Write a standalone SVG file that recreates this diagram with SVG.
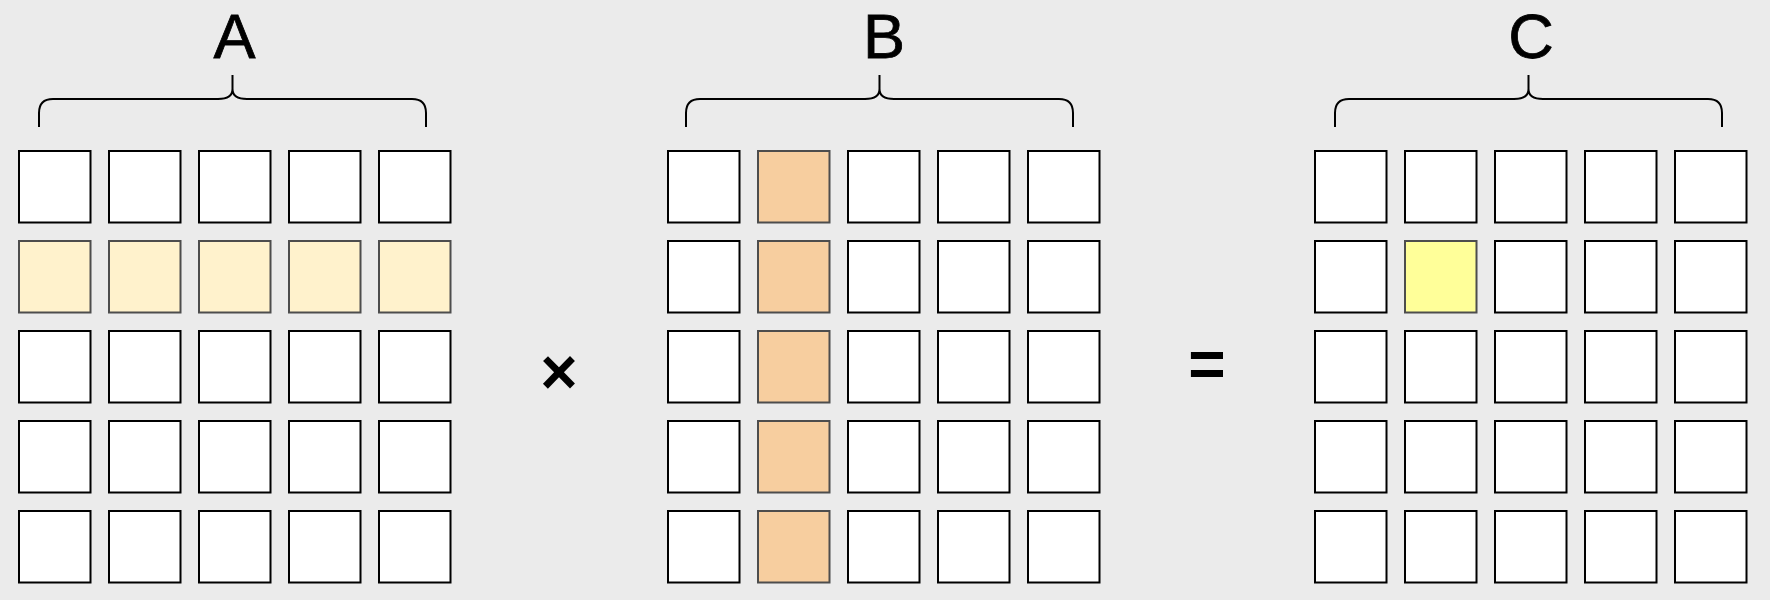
<svg xmlns="http://www.w3.org/2000/svg" width="1770" height="600" viewBox="0 0 1770 600">
<defs>
<style>
.c{fill:#ffffff;stroke:#000000;stroke-width:2}
.ha{fill:#FFF2CC;stroke:#4d4d4d;stroke-width:2}
.hb{fill:#F7CE9F;stroke:#4d4d4d;stroke-width:2}
.hc{fill:#FFFF99;stroke:#4d4d4d;stroke-width:2}
.br{fill:none;stroke:#000000;stroke-width:2}
.lbl{font-family:"Liberation Sans",Arial,sans-serif;font-size:63px;fill:#000000;stroke:#000000;stroke-width:0.8;text-anchor:middle}
.op{font-family:"Liberation Sans",Arial,sans-serif;font-size:64px;font-weight:bold;fill:#000000;text-anchor:middle}
</style>
</defs>
<rect width="1770" height="600" fill="#EBEBEB"/>
<g id="matrixA">
<rect class="c" x="19" y="151" width="71.5" height="71.5"/><rect class="c" x="109" y="151" width="71.5" height="71.5"/><rect class="c" x="199" y="151" width="71.5" height="71.5"/><rect class="c" x="289" y="151" width="71.5" height="71.5"/><rect class="c" x="379" y="151" width="71.5" height="71.5"/>
<rect class="ha" x="19" y="241" width="71.5" height="71.5"/><rect class="ha" x="109" y="241" width="71.5" height="71.5"/><rect class="ha" x="199" y="241" width="71.5" height="71.5"/><rect class="ha" x="289" y="241" width="71.5" height="71.5"/><rect class="ha" x="379" y="241" width="71.5" height="71.5"/>
<rect class="c" x="19" y="331" width="71.5" height="71.5"/><rect class="c" x="109" y="331" width="71.5" height="71.5"/><rect class="c" x="199" y="331" width="71.5" height="71.5"/><rect class="c" x="289" y="331" width="71.5" height="71.5"/><rect class="c" x="379" y="331" width="71.5" height="71.5"/>
<rect class="c" x="19" y="421" width="71.5" height="71.5"/><rect class="c" x="109" y="421" width="71.5" height="71.5"/><rect class="c" x="199" y="421" width="71.5" height="71.5"/><rect class="c" x="289" y="421" width="71.5" height="71.5"/><rect class="c" x="379" y="421" width="71.5" height="71.5"/>
<rect class="c" x="19" y="511" width="71.5" height="71.5"/><rect class="c" x="109" y="511" width="71.5" height="71.5"/><rect class="c" x="199" y="511" width="71.5" height="71.5"/><rect class="c" x="289" y="511" width="71.5" height="71.5"/><rect class="c" x="379" y="511" width="71.5" height="71.5"/>
</g>
<g id="matrixB">
<rect class="c" x="668" y="151" width="71.5" height="71.5"/><rect class="hb" x="758" y="151" width="71.5" height="71.5"/><rect class="c" x="848" y="151" width="71.5" height="71.5"/><rect class="c" x="938" y="151" width="71.5" height="71.5"/><rect class="c" x="1028" y="151" width="71.5" height="71.5"/>
<rect class="c" x="668" y="241" width="71.5" height="71.5"/><rect class="hb" x="758" y="241" width="71.5" height="71.5"/><rect class="c" x="848" y="241" width="71.5" height="71.5"/><rect class="c" x="938" y="241" width="71.5" height="71.5"/><rect class="c" x="1028" y="241" width="71.5" height="71.5"/>
<rect class="c" x="668" y="331" width="71.5" height="71.5"/><rect class="hb" x="758" y="331" width="71.5" height="71.5"/><rect class="c" x="848" y="331" width="71.5" height="71.5"/><rect class="c" x="938" y="331" width="71.5" height="71.5"/><rect class="c" x="1028" y="331" width="71.5" height="71.5"/>
<rect class="c" x="668" y="421" width="71.5" height="71.5"/><rect class="hb" x="758" y="421" width="71.5" height="71.5"/><rect class="c" x="848" y="421" width="71.5" height="71.5"/><rect class="c" x="938" y="421" width="71.5" height="71.5"/><rect class="c" x="1028" y="421" width="71.5" height="71.5"/>
<rect class="c" x="668" y="511" width="71.5" height="71.5"/><rect class="hb" x="758" y="511" width="71.5" height="71.5"/><rect class="c" x="848" y="511" width="71.5" height="71.5"/><rect class="c" x="938" y="511" width="71.5" height="71.5"/><rect class="c" x="1028" y="511" width="71.5" height="71.5"/>
</g>
<g id="matrixC">
<rect class="c" x="1315" y="151" width="71.5" height="71.5"/><rect class="c" x="1405" y="151" width="71.5" height="71.5"/><rect class="c" x="1495" y="151" width="71.5" height="71.5"/><rect class="c" x="1585" y="151" width="71.5" height="71.5"/><rect class="c" x="1675" y="151" width="71.5" height="71.5"/>
<rect class="c" x="1315" y="241" width="71.5" height="71.5"/><rect class="hc" x="1405" y="241" width="71.5" height="71.5"/><rect class="c" x="1495" y="241" width="71.5" height="71.5"/><rect class="c" x="1585" y="241" width="71.5" height="71.5"/><rect class="c" x="1675" y="241" width="71.5" height="71.5"/>
<rect class="c" x="1315" y="331" width="71.5" height="71.5"/><rect class="c" x="1405" y="331" width="71.5" height="71.5"/><rect class="c" x="1495" y="331" width="71.5" height="71.5"/><rect class="c" x="1585" y="331" width="71.5" height="71.5"/><rect class="c" x="1675" y="331" width="71.5" height="71.5"/>
<rect class="c" x="1315" y="421" width="71.5" height="71.5"/><rect class="c" x="1405" y="421" width="71.5" height="71.5"/><rect class="c" x="1495" y="421" width="71.5" height="71.5"/><rect class="c" x="1585" y="421" width="71.5" height="71.5"/><rect class="c" x="1675" y="421" width="71.5" height="71.5"/>
<rect class="c" x="1315" y="511" width="71.5" height="71.5"/><rect class="c" x="1405" y="511" width="71.5" height="71.5"/><rect class="c" x="1495" y="511" width="71.5" height="71.5"/><rect class="c" x="1585" y="511" width="71.5" height="71.5"/><rect class="c" x="1675" y="511" width="71.5" height="71.5"/>
</g>
<g id="braceA"><path class="br" d="M39 127 V113 Q39 99 53 99 H218 Q232.5 99 232.5 89 V75 M426 127 V113 Q426 99 412 99 H247 Q232.5 99 232.5 89"/></g>
<g id="braceB"><path class="br" d="M686 127 V113 Q686 99 700 99 H865 Q879.5 99 879.5 89 V75 M1073 127 V113 Q1073 99 1059 99 H894 Q879.5 99 879.5 89"/></g>
<g id="braceC"><path class="br" d="M1335 127 V113 Q1335 99 1349 99 H1514 Q1528.5 99 1528.5 89 V75 M1722 127 V113 Q1722 99 1708 99 H1543 Q1528.5 99 1528.5 89"/></g>
<g id="labels">
<text class="lbl" x="234.5" y="57.5">A</text>
<text class="lbl" x="884" y="57.5">B</text>
<text class="lbl" x="1531" y="57.5">C</text>
<text class="op" x="559" y="394">×</text>
<text class="op" x="1207" y="386">=</text>
</g>
<g id="connectors"></g>
</svg>
